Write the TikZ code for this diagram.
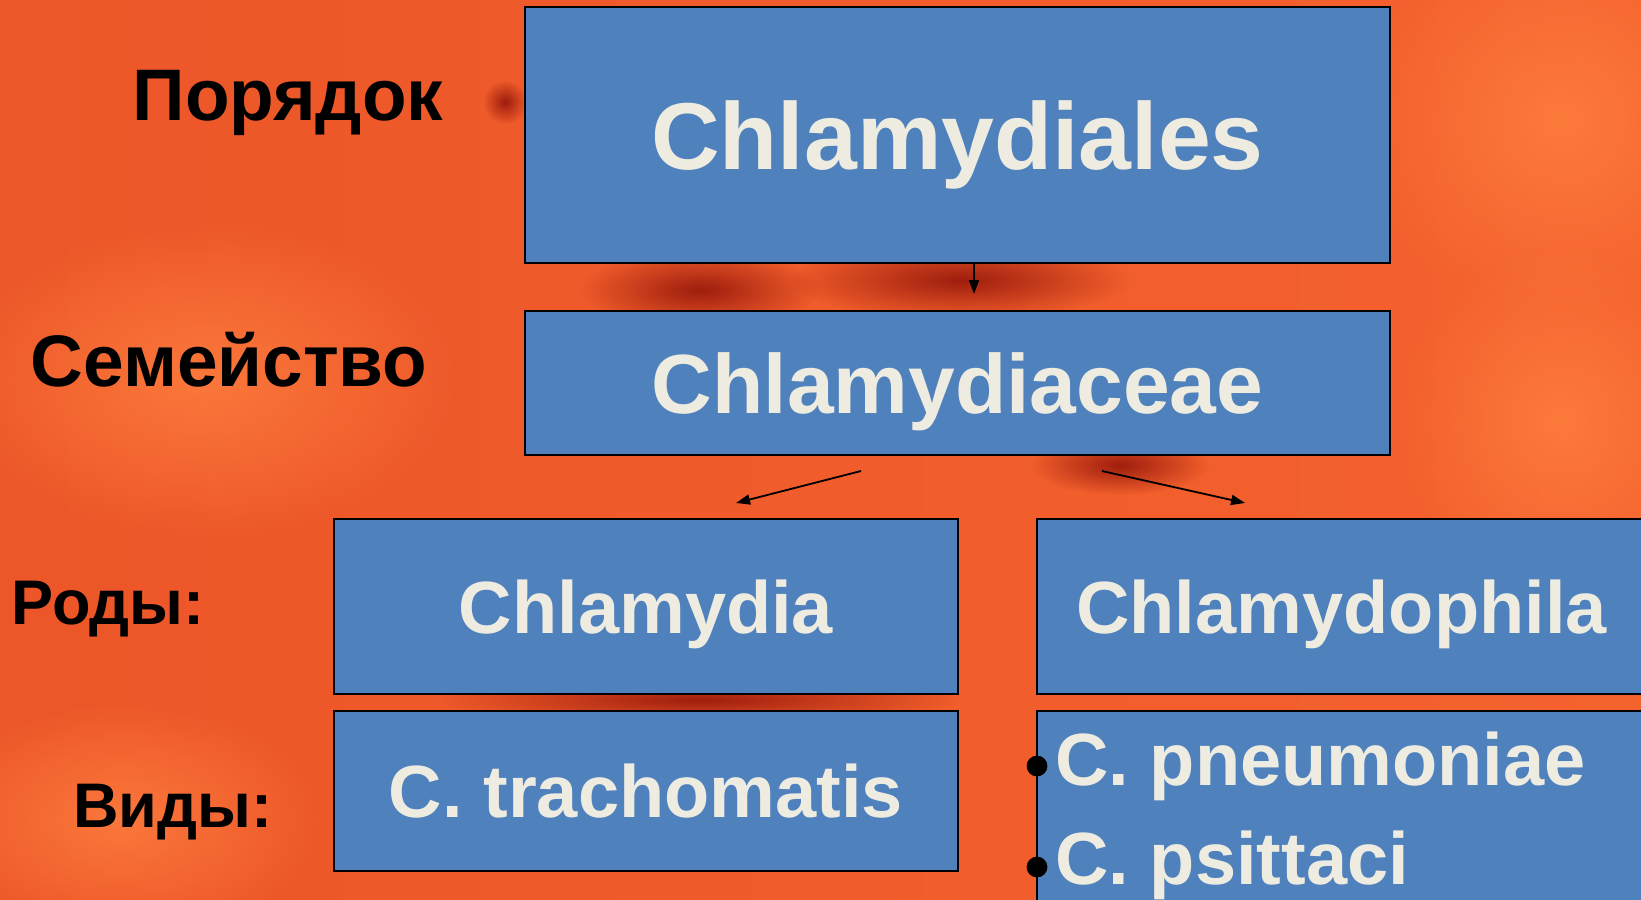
\documentclass[tikz,border=0pt]{standalone}
\usepackage{fontspec}
\setmainfont{Liberation Sans}
\usetikzlibrary{arrows.meta,fadings}
\tikzfading[name=blob fade, inner color=transparent!20, outer color=transparent!100]
\newcommand{\txtsize}[1]{\fontsize{#1}{#1}\selectfont}

\begin{document}
\begin{tikzpicture}[x=0.5pt, y=-0.5pt,
    taxon/.style={draw=black, line width=1pt, fill=boxBlue, text=boxText,
        inner sep=0pt, font=\bfseries\txtsize{#1}, text height=0.716*#1pt, text depth=0pt},
    rank/.style={anchor=base, text=black, font=\bfseries\txtsize{#1}},
    link/.style={-{Triangle[length=7pt,width=5pt]}, line width=0.9pt, black}]
    \def\picW{1641}
    \def\picH{899}

    \definecolor{boxBlue}{HTML}{4F81BD}
    \definecolor{boxText}{HTML}{EEECE1}
    \definecolor{bgLeft}{HTML}{EC5628}
    \definecolor{bgMid}{HTML}{CF3A1C}
    \definecolor{bgRight}{HTML}{F4622E}
    \definecolor{blobDark}{HTML}{8A0E06}
    \definecolor{blobLight}{HTML}{FF8040}

    \useasboundingbox (0,0) rectangle (\picW,\picH);
    \clip (0,0) rectangle (\picW,\picH);

    % Draw background
    \shade[left color=bgLeft, middle color=bgMid, right color=bgRight] (0,0) rectangle (\picW,\picH);
    \fill[blobLight, path fading=blob fade] (200,380) ellipse [x radius=260, y radius=160];
    \fill[blobLight, path fading=blob fade] (1560,120) ellipse [x radius=200, y radius=200];
    \fill[blobLight, path fading=blob fade] (1560,420) ellipse [x radius=160, y radius=180];
    \fill[blobLight, path fading=blob fade] (120,820) ellipse [x radius=200, y radius=120];
    \fill[blobDark, path fading=blob fade] (960,280) ellipse [x radius=170, y radius=40];
    \fill[blobDark, path fading=blob fade] (1120,465) ellipse [x radius=90, y radius=30];
    \fill[blobDark, path fading=blob fade] (505,102) ellipse [x radius=22, y radius=22];
    \fill[blobDark, path fading=blob fade] (700,700) ellipse [x radius=260, y radius=24];
    \fill[blobDark, path fading=blob fade] (700,290) ellipse [x radius=120, y radius=40];

    % Draw rank labels
    \node[rank=36.5] (order) at (288,120) {Порядок};
    \node[rank=36.5] (family) at (229,386) {Семейство};
    \node[rank=31.5] (genera) at (108,624) {Роды:};
    \node[rank=31.5] (species) at (173,827) {Виды:};

    % Draw taxon boxes
    \node[taxon=47.5, minimum width=432.5pt, minimum height=128pt] (chlOrder) at (957.5,135) {Chlamydiales};
    \node[taxon=42, minimum width=432.5pt, minimum height=72pt] (chlFamily) at (957.5,383) {Chlamydiaceae};
    \node[taxon=37, minimum width=312pt, minimum height=87.5pt] (chlGenus) at (646,606.5) {Chlamydia};
    \node[taxon=37, minimum width=304.5pt, minimum height=87.5pt] (phiGenus) at (1341.5,606.5) {Chlamydophila};
    \node[taxon=37, minimum width=312pt, minimum height=80pt] (trachoma) at (646,791) {C. trachomatis};
    \node[taxon=37, minimum width=304.5pt, minimum height=114.5pt] (phiSpecies) at (1341.5,825.5) {};

    % List of species in Chlamydophila
    \fill[black] (1037,766) circle (5.2pt);
    \fill[black] (1037,867) circle (5.2pt);
    \node[anchor=base west, text=boxText, inner sep=0pt, font=\bfseries\txtsize{37}]
        (pneumo) at (1055,785) {C. pneumoniae};
    \node[anchor=base west, text=boxText, inner sep=0pt, font=\bfseries\txtsize{37}]
        (psitta) at (1055,884) {C. psittaci};

    % Draw arrows
    \coordinate (orderTip) at (974,294);
    \coordinate (leftTail) at (861,471);
    \coordinate (leftTip) at (736,503);
    \coordinate (rightTail) at (1102,471);
    \coordinate (rightTip) at (1245,503);
    \draw[link] (chlOrder.south -| orderTip) -- (orderTip);
    \draw[link] (leftTail) -- (leftTip);
    \draw[link] (rightTail) -- (rightTip);

\end{tikzpicture}
\end{document}
